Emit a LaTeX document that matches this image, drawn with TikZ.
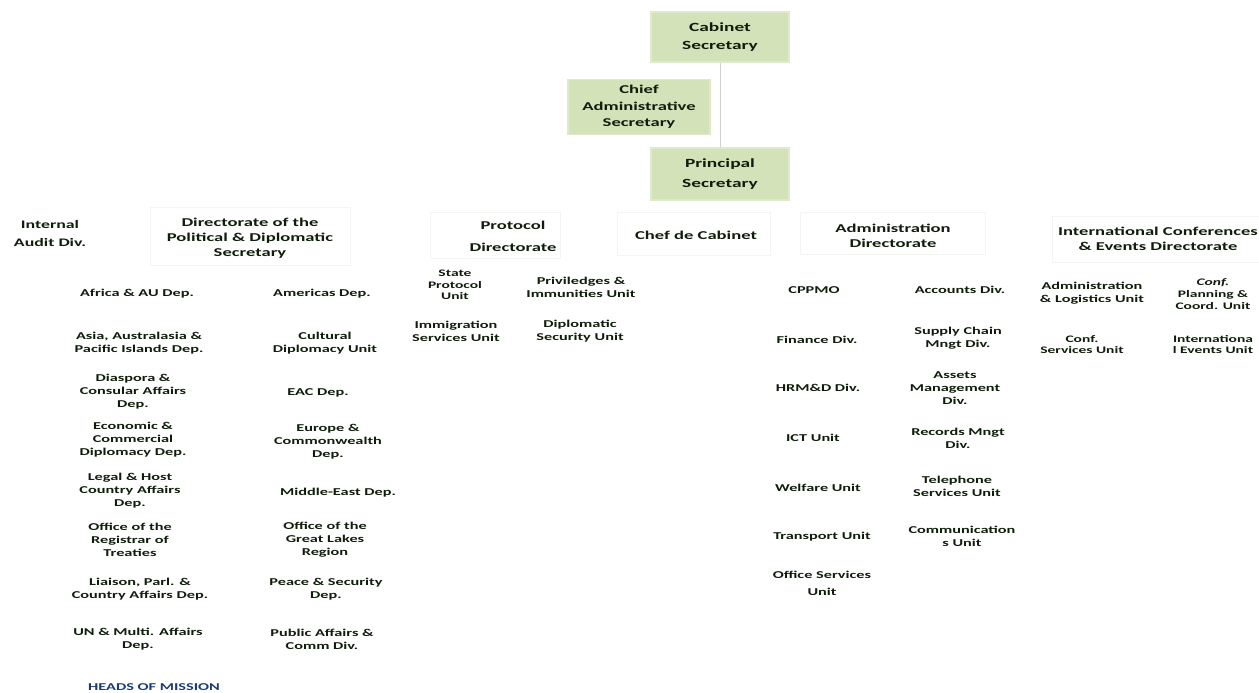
\documentclass[tikz,border=0pt]{standalone}
\usepackage{fontspec}
\newfontfamily\cf{Carlito}[FakeStretch=1.55]
\definecolor{txt}{RGB}{14,30,10}
\definecolor{boxfill}{RGB}{212,226,186}
\definecolor{boxedge}{RGB}{222,234,204}
\definecolor{faint}{RGB}{242,245,241}
\definecolor{hom}{RGB}{25,60,120}
\definecolor{conn}{RGB}{205,210,205}
\tikzset{
  topbox/.style={draw=boxedge, line width=1.5pt, fill=boxfill, minimum width=138pt, align=center, text=txt, font=\cf\bfseries\fontsize{12.5}{18}\selectfont, inner sep=0pt},
  dirtext/.style={align=center, text=txt, inner sep=0pt},
  item/.style={align=center, text=txt, inner sep=0pt, font=\cf\bfseries\fontsize{10.5}{13}\selectfont},
  faintbox/.style={draw=faint, line width=0.6pt},
}
\begin{document}
\begin{tikzpicture}[x=1pt,y=-1pt]
\useasboundingbox (0,0) rectangle (1259,693);
% top boxes
\node[topbox, minimum height=50pt] (cab) at (720,37) {Cabinet\\Secretary};
\node[topbox, minimum width=142pt, minimum height=55pt, font=\cf\bfseries\fontsize{12}{16.5}\selectfont] (cas) at (639,107) {Chief\\Administrative\\Secretary};
\node[topbox, minimum height=52pt, font=\cf\bfseries\fontsize{12.5}{20}\selectfont] (ps) at (720,174) {Principal\\Secretary};
\draw[conn, line width=0.6pt] (cab.south) -- (ps.north);
% directorate faint boxes
\draw[faintbox] (150,207) rectangle (350,265);
\draw[faintbox] (430,212) rectangle (560,258);
\draw[faintbox] (617,212) rectangle (770,255);
\draw[faintbox] (800,212) rectangle (985,254);
\draw[faintbox] (1052,216) rectangle (1259,262);
% directorates
\node[dirtext, font=\cf\bfseries\fontsize{11.5}{18}\selectfont] (iad) at (50,234) {Internal\\Audit Div.};
\node[dirtext, font=\cf\bfseries\fontsize{12}{15}\selectfont] (pol) at (250,238) {Directorate of the\\Political \& Diplomatic\\Secretary};
\node[dirtext, font=\cf\bfseries\fontsize{12}{22}\selectfont] (pro) at (513,236) {Protocol\\Directorate};
\node[dirtext, font=\cf\bfseries\fontsize{12}{15}\selectfont] (chef) at (696,235) {Chef de Cabinet};
\node[dirtext, font=\cf\bfseries\fontsize{12}{15}\selectfont] (adm) at (893,236) {Administration\\Directorate};
\node[dirtext, font=\cf\bfseries\fontsize{12}{15}\selectfont] (icd) at (1158,239) {International Conferences\\\& Events Directorate};
% political column 1
\node[item] (p1) at (137,294) {Africa \& AU Dep.};
\node[item] (p2) at (139,343) {Asia, Australasia \&\\Pacific Islands Dep.};
\node[item] (p3) at (133,392) {Diaspora \&\\Consular Affairs\\Dep.};
\node[item] (p4) at (133,440) {Economic \&\\Commercial\\Diplomacy Dep.};
\node[item] (p5) at (130,491) {Legal \& Host\\Country Affairs\\Dep.};
\node[item] (p6) at (130,540) {Office of the\\Registrar of\\Treaties};
\node[item] (p7) at (140,589) {Liaison, Parl. \&\\Country Affairs Dep.};
\node[item] (p8) at (138,639) {UN \& Multi. Affairs\\Dep.};
\node[item, text=hom] (hom) at (154,687) {HEADS OF MISSION};
% political column 2
\node[item] (q1) at (322,294) {Americas Dep.};
\node[item] (q2) at (325,343) {Cultural\\Diplomacy Unit};
\node[item] (q3) at (318,393) {EAC Dep.};
\node[item] (q4) at (328,442) {Europe \&\\Commonwealth\\Dep.};
\node[item] (q5) at (338,493) {Middle-East Dep.};
\node[item] (q6) at (325,540) {Office of the\\Great Lakes\\Region};
\node[item] (q7) at (326,589) {Peace \& Security\\Dep.};
\node[item] (q8) at (322,639) {Public Affairs \&\\Comm Div.};
% protocol
\node[item, font=\cf\bfseries\fontsize{10}{11.5}\selectfont] (r1) at (455,285) {State\\Protocol\\Unit};
\node[item] (r2) at (581,287) {Priviledges \&\\Immunities Unit};
\node[item] (r3) at (456,331) {Immigration\\Services Unit};
\node[item] (r4) at (580,331) {Diplomatic\\Security Unit};
% administration col 1
\node[item] (a1) at (814,290) {CPPMO};
\node[item] (a2) at (817,340) {Finance Div.};
\node[item] (a3) at (818,388) {HRM\&D Div.};
\node[item] (a4) at (813,438) {ICT Unit};
\node[item] (a5) at (818,488) {Welfare Unit};
\node[item] (a6) at (822,537) {Transport Unit};
\node[item, font=\cf\bfseries\fontsize{10.5}{17}\selectfont] (a7) at (822,583) {Office Services\\Unit};
% administration col 2
\node[item] (b1) at (960,290) {Accounts Div.};
\node[item] (b2) at (958,338) {Supply Chain\\Mngt Div.};
\node[item] (b3) at (955,388) {Assets\\Management\\Div.};
\node[item] (b4) at (958,438) {Records Mngt\\Div.};
\node[item] (b5) at (957,486) {Telephone\\Services Unit};
\node[item] (b6) at (962,536) {Communication\\s Unit};
% international
\node[item] (c1) at (1092,293) {Administration\\\& Logistics Unit};
\node[item, font=\cf\bfseries\fontsize{10}{12}\selectfont] (c2) at (1213,294) {{\itshape Conf.}\\Planning \&\\Coord. Unit};
\node[item, font=\cf\bfseries\fontsize{10}{11}\selectfont] (c3) at (1082,345) {Conf.\\Services Unit};
\node[item, font=\cf\bfseries\fontsize{10}{11}\selectfont] (c4) at (1213,345) {Internationa\\l Events Unit};
\end{tikzpicture}
\end{document}
